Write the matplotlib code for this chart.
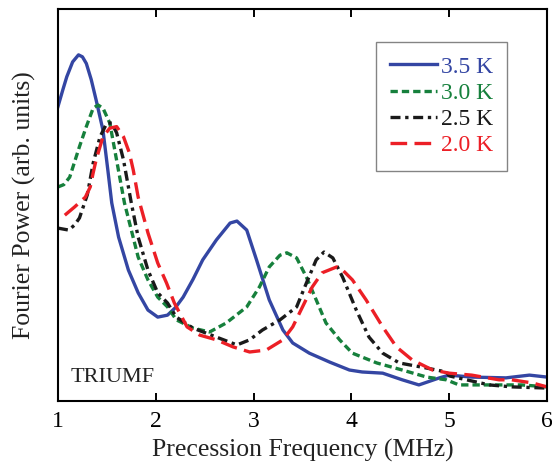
import numpy as np
import matplotlib
matplotlib.use('Agg')
import matplotlib.pyplot as plt

plt.rcParams['font.family'] = ['Liberation Serif', 'DejaVu Serif']

# Fourier power spectra (arb. units)
x_35 = [1.00, 1.05, 1.09, 1.15, 1.21, 1.25, 1.29, 1.34, 1.39, 1.46, 1.51, 1.55, 1.62, 1.72,
        1.82, 1.92, 2.02, 2.12, 2.20, 2.28, 2.38, 2.48, 2.62, 2.76, 2.83, 2.93, 3.03, 3.16,
        3.30, 3.40, 3.57, 3.78, 3.98, 4.11, 4.32, 4.52, 4.69, 4.90, 5.00, 5.23, 5.58, 5.82, 6.00]
y_35 = [75.1, 79.4, 82.7, 86.5, 88.3, 87.8, 86.1, 82.0, 76.8, 69.1, 58.9, 50.5, 41.8, 33.4,
        27.6, 23.2, 21.4, 21.9, 23.8, 26.5, 31.0, 36.0, 41.1, 45.4, 45.9, 43.6, 36.0, 25.8,
        18.1, 14.8, 12.2, 9.9, 7.9, 7.4, 7.1, 5.4, 4.1, 5.9, 6.6, 6.1, 5.9, 6.6, 6.1]

x_30 = [1.00, 1.06, 1.12, 1.22, 1.29, 1.36, 1.41, 1.46, 1.53, 1.61, 1.68, 1.75, 1.82, 1.92,
        2.02, 2.12, 2.21, 2.38, 2.55, 2.72, 2.93, 3.06, 3.16, 3.27, 3.34, 3.44, 3.54, 3.64,
        3.74, 3.88, 4.01, 4.26, 4.52, 4.77, 4.97, 5.10, 5.41, 5.74, 6.00]
y_30 = [54.6, 55.2, 57.1, 64.9, 70.0, 74.7, 75.5, 74.7, 70.9, 60.0, 50.5, 43.6, 36.7, 30.9,
        26.5, 24.0, 20.7, 18.6, 17.6, 19.9, 24.0, 29.1, 34.2, 37.2, 37.8, 36.5, 31.6, 25.8,
        19.9, 15.6, 12.2, 9.7, 7.9, 6.1, 5.4, 4.1, 4.1, 4.1, 3.6]

x_25 = [1.00, 1.11, 1.17, 1.22, 1.30, 1.36, 1.43, 1.50, 1.55, 1.60, 1.67, 1.75, 1.82, 1.92,
        2.02, 2.12, 2.21, 2.38, 2.62, 2.83, 2.96, 3.09, 3.27, 3.44, 3.54, 3.64, 3.72, 3.81,
        3.91, 4.05, 4.18, 4.32, 4.49, 4.77, 4.97, 5.00, 5.41, 5.64, 6.00]
y_25 = [44.1, 43.6, 44.9, 46.7, 52.6, 60.7, 67.4, 70.9, 70.9, 68.4, 61.5, 50.5, 41.8, 33.4,
        27.6, 25.0, 21.4, 18.6, 16.3, 14.3, 15.6, 18.1, 20.7, 24.0, 30.1, 36.0, 38.0, 36.5,
        31.6, 23.2, 16.3, 12.2, 9.7, 8.4, 7.4, 6.4, 4.1, 3.6, 3.3]

x_20 = [1.07, 1.17, 1.28, 1.33, 1.36, 1.39, 1.46, 1.53, 1.60, 1.67, 1.73, 1.77, 1.82, 1.92,
        2.02, 2.11, 2.19, 2.32, 2.45, 2.62, 2.79, 2.96, 3.13, 3.30, 3.40, 3.50, 3.60, 3.70,
        3.85, 3.91, 4.01, 4.15, 4.32, 4.46, 4.62, 4.83, 5.00, 5.23, 5.51, 5.64, 5.85, 6.00]
y_20 = [47.4, 49.5, 52.0, 54.6, 58.2, 61.5, 67.4, 69.6, 70.0, 67.4, 63.3, 58.9, 52.0, 42.9,
        35.2, 30.1, 25.0, 18.9, 16.8, 15.6, 13.8, 12.5, 13.0, 15.6, 18.9, 24.0, 29.1, 32.7,
        34.2, 33.4, 30.9, 25.8, 18.9, 13.8, 10.5, 7.9, 7.1, 6.6, 5.4, 5.4, 4.6, 3.6]

labels = ['3.5 K', '3.0 K', '2.5 K', '2.0 K']
colors = ['#3446a3', '#16803c', '#1a1a1a', '#ec1f26']

fig = plt.figure(figsize=(5.52, 4.66), dpi=100)
ax = fig.add_axes([0.105, 0.1395, 0.886, 0.8412])

ax.plot(x_35, y_35, color=colors[0], lw=2.4, ls='-', label=labels[0])
ax.plot(x_30, y_30, color=colors[1], lw=2.4, ls=(0, (2.2, 1.2)), label=labels[1])
ax.plot(x_25, y_25, color=colors[2], lw=2.4, ls=(0, (3.0, 1.4, 1.0, 1.4)), label=labels[2])
ax.plot(x_20, y_20, color=colors[3], lw=2.4, ls=(0, (5.0, 2.2)), label=labels[3])

ax.set_xlim(1, 6)
ax.set_ylim(0, 100)
ax.set_xticks([1, 2, 3, 4, 5, 6])
ax.set_yticks([])
ax.tick_params(axis='x', direction='in', top=True, length=6, width=1.4,
               labelsize=17, pad=7)
for s in ax.spines.values():
    s.set_linewidth(1.5)

ax.set_xlabel('Precession Frequency (MHz)', fontsize=18.5, color='#222222', labelpad=5)
ax.set_ylabel('Fourier Power (arb. units)', fontsize=18.5, color='#222222', labelpad=16)

ax.text(0.025, 0.06, 'TRIUMF', transform=ax.transAxes, fontsize=16,
        va='center', ha='left', color='#222222')

leg = ax.legend(loc='upper right', bbox_to_anchor=(0.918, 0.916), fontsize=17,
                frameon=True, fancybox=False, handlelength=2.0, handletextpad=0.15,
                labelspacing=0.2, borderpad=0.6, borderaxespad=0)
leg.get_frame().set_edgecolor('#666666')
leg.get_frame().set_linewidth(1.0)
for t, c in zip(leg.get_texts(), colors):
    t.set_color(c)

fig.savefig('out.png', dpi=100)
